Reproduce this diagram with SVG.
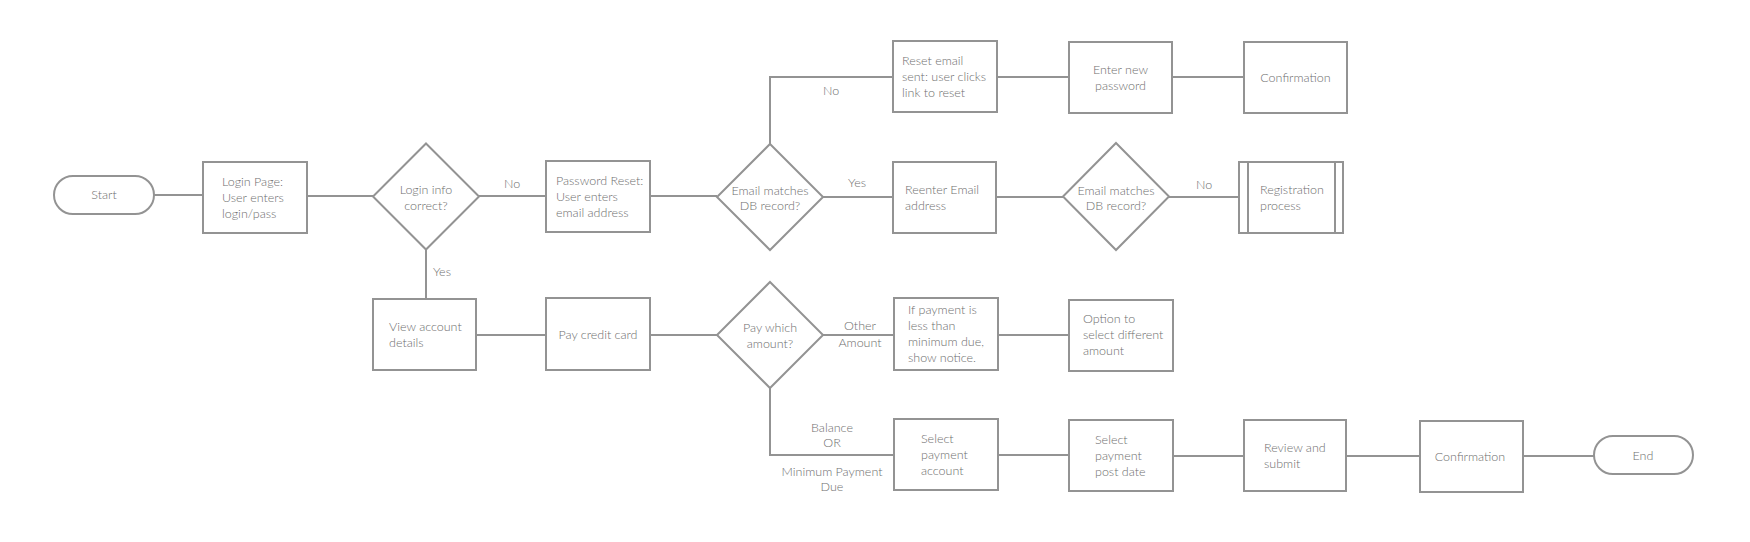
<svg xmlns="http://www.w3.org/2000/svg" width="1750" height="542" viewBox="0 0 1750 542">
<style>
.s{fill:#fff;stroke:#939393;stroke-width:2}
.c{fill:none;stroke:#939393;stroke-width:2}
text{font-family:Lato,"Open Sans","Liberation Sans",sans-serif;font-weight:300;font-size:12.5px;fill:#6e6e6e}
.m{text-anchor:middle}
</style>
<rect width="1750" height="542" fill="#fff"/>
<g id="connectors">
<path class="c" d="M154 195H203"/>
<path class="c" d="M307 196H373"/>
<path class="c" d="M479 196H546"/>
<path class="c" d="M650 196H717"/>
<path class="c" d="M770 144V77H893"/>
<path class="c" d="M997 77H1069"/>
<path class="c" d="M1172 77H1244"/>
<path class="c" d="M823 197H893"/>
<path class="c" d="M996 197H1063"/>
<path class="c" d="M1169 197H1239"/>
<path class="c" d="M426 250V299"/>
<path class="c" d="M476 335H546"/>
<path class="c" d="M650 335H717"/>
<path class="c" d="M823 335H894"/>
<path class="c" d="M998 335H1069"/>
<path class="c" d="M770 388V455H894"/>
<path class="c" d="M998 455H1069"/>
<path class="c" d="M1173 456H1244"/>
<path class="c" d="M1346 456H1420"/>
<path class="c" d="M1523 456H1594"/>
<text class="m" x="512" y="188">No</text>
<text x="433" y="276">Yes</text>
<text class="m" x="831" y="95">No</text>
<text class="m" x="857" y="187">Yes</text>
<text class="m" x="1204" y="189">No</text>
<text class="m" x="860" y="330">Other</text>
<text class="m" x="860" y="347">Amount</text>
<text class="m" x="832" y="432">Balance</text>
<text class="m" x="832" y="447">OR</text>
<text class="m" x="832" y="476">Minimum Payment</text>
<text class="m" x="832" y="491">Due</text>
</g>
<g id="start"><rect class="s" x="54" y="176" width="100" height="38" rx="19"/><text class="m" x="104" y="199">Start</text></g>
<g id="login"><rect class="s" x="203" y="162" width="104" height="71"/><text x="222" y="186">Login Page:</text><text x="222" y="202">User enters</text><text x="222" y="217.5">login/pass</text></g>
<g id="loginCorrect"><polygon class="s" points="426,143.5 479,196.5 426,249.5 373,196.5"/><text class="m" x="426" y="194">Login info</text><text class="m" x="426" y="209.5">correct?</text></g>
<g id="pwReset"><rect class="s" x="546" y="161" width="104" height="71"/><text x="556" y="185">Password Reset:</text><text x="556" y="201">User enters</text><text x="556" y="216.5">email address</text></g>
<g id="emailMatch1"><polygon class="s" points="770,144 823,197 770,250 717,197"/><text class="m" x="770" y="194.5">Email matches</text><text class="m" x="770" y="210">DB record?</text></g>
<g id="resetSent"><rect class="s" x="893" y="41" width="104" height="71"/><text x="902" y="65">Reset email</text><text x="902" y="81">sent: user clicks</text><text x="902" y="96.5">link to reset</text></g>
<g id="newPw"><rect class="s" x="1069" y="42" width="103" height="71"/><text class="m" x="1120.5" y="74">Enter new</text><text class="m" x="1120.5" y="89.5">password</text></g>
<g id="confirm1"><rect class="s" x="1244" y="42" width="103" height="71"/><text class="m" x="1295.5" y="82">Confirmation</text></g>
<g id="reenter"><rect class="s" x="893" y="162" width="103" height="71"/><text x="905" y="194">Reenter Email</text><text x="905" y="209.5">address</text></g>
<g id="emailMatch2"><polygon class="s" points="1116,143 1169,196.5 1116,250 1063,196.5"/><text class="m" x="1116" y="194.5">Email matches</text><text class="m" x="1116" y="210">DB record?</text></g>
<g id="registration"><rect class="s" x="1239" y="162" width="104" height="71"/><path class="c" d="M1248 162V233M1335 162V233"/><text x="1260" y="194">Registration</text><text x="1260" y="209.5">process</text></g>
<g id="viewAccount"><rect class="s" x="373" y="299" width="103" height="71"/><text x="389" y="331">View account</text><text x="389" y="346.5">details</text></g>
<g id="payCard"><rect class="s" x="546" y="298" width="104" height="72"/><text class="m" x="598" y="338.5">Pay credit card</text></g>
<g id="payWhich"><polygon class="s" points="770,282 823,335 770,388 717,335"/><text class="m" x="770" y="332">Pay which</text><text class="m" x="770" y="347.5">amount?</text></g>
<g id="ifPayment"><rect class="s" x="894" y="298" width="104" height="72"/><text x="908" y="314">If payment is</text><text x="908" y="330">less than</text><text x="908" y="346">minimum due,</text><text x="908" y="362">show notice.</text></g>
<g id="option"><rect class="s" x="1069" y="300" width="104" height="71"/><text x="1083" y="323">Option to</text><text x="1083" y="339">select different</text><text x="1083" y="355">amount</text></g>
<g id="selAccount"><rect class="s" x="894" y="419" width="104" height="71"/><text x="921" y="443">Select</text><text x="921" y="459">payment</text><text x="921" y="474.5">account</text></g>
<g id="selDate"><rect class="s" x="1069" y="420" width="104" height="71"/><text x="1095" y="444">Select</text><text x="1095" y="460">payment</text><text x="1095" y="475.5">post date</text></g>
<g id="review"><rect class="s" x="1244" y="420" width="102" height="71"/><text x="1264" y="452">Review and</text><text x="1264" y="467.5">submit</text></g>
<g id="confirm2"><rect class="s" x="1420" y="421" width="103" height="71"/><text class="m" x="1470" y="461">Confirmation</text></g>
<g id="end"><rect class="s" x="1594" y="436" width="99" height="38" rx="19"/><text class="m" x="1643" y="459.5">End</text></g>
</svg>
